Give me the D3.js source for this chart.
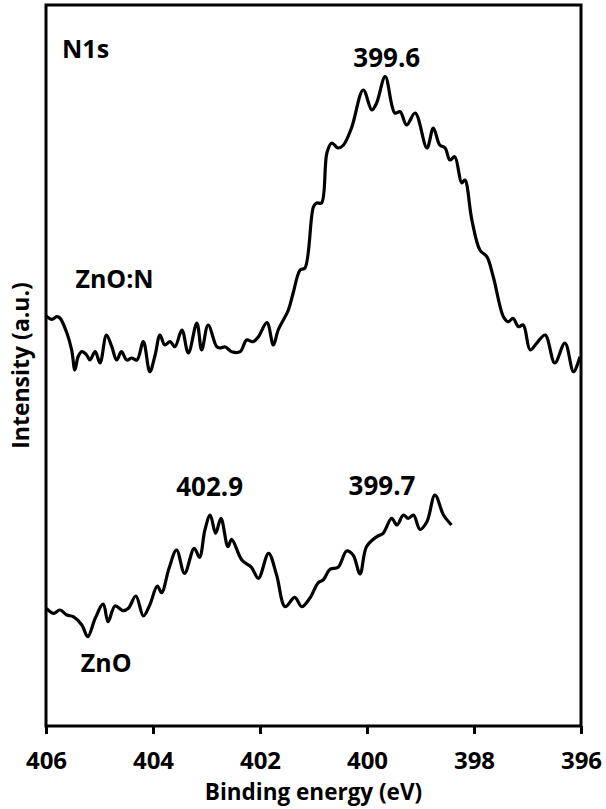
<!DOCTYPE html>
<html lang="en">
<head>
    <meta charset="UTF-8">
    <title>N1s XPS</title>
    <script src="https://d3js.org/d3.v7.min.js"></script>
    <style>
        body { margin: 0; background: #fff; }
        text { font-family: "Open Sans", sans-serif; font-weight: 700; fill: #000; }
    </style>
</head>
<body>
    <svg></svg>
    <script>
        // Binding energy (eV) and intensity (a.u.)
        const energyZnON = [406.00, 405.89, 405.80, 405.74, 405.61, 405.52, 405.46, 405.40, 405.33, 405.24,
            405.18, 405.08, 404.99, 404.87, 404.77, 404.68, 404.59, 404.49, 404.40, 404.30,
            404.18, 404.06, 403.96, 403.87, 403.78, 403.68, 403.59, 403.46, 403.34, 403.18,
            403.09, 402.97, 402.81, 402.75, 402.65, 402.53, 402.37, 402.25, 402.13, 402.03,
            401.87, 401.75, 401.66, 401.47, 401.38, 401.25, 401.16, 401.00, 400.94, 400.85,
            400.75, 400.66, 400.54, 400.44, 400.29, 400.07, 399.91, 399.82, 399.66, 399.48,
            399.38, 399.26, 399.10, 398.88, 398.76, 398.64, 398.54, 398.45, 398.36, 398.23,
            398.17, 398.04, 397.89, 397.76, 397.64, 397.45, 397.36, 397.27, 397.17, 397.08,
            396.95, 396.83, 396.67, 396.49, 396.30, 396.14, 396.02];
        const intensityZnON = [410, 406.7, 409.3, 408, 393, 376, 356, 369.3, 374.3, 371,
            366, 374.3, 363, 391, 379.3, 366, 374.3, 366, 368, 366,
            384.3, 354.3, 371, 391, 381, 384.3, 379.3, 396, 373, 403,
            376, 401, 379.3, 378, 379, 374.3, 374.3, 386, 384.3, 389.3,
            403.3, 381, 396, 416, 433, 456, 458, 519.3, 523, 523,
            573, 583, 578, 581, 598, 636, 616, 623, 649.3, 613,
            614.3, 601, 613, 578, 598, 581, 578, 566, 569.3, 543,
            546, 506, 476, 469.3, 449.3, 409.3, 404.3, 407.7, 399.3, 401,
            376, 382.7, 391, 363, 383, 354.3, 369.3];

        const energyZnO = [405.99, 405.86, 405.74, 405.61, 405.49, 405.33, 405.22, 405.08, 404.93, 404.84,
            404.71, 404.56, 404.46, 404.32, 404.18, 404.06, 403.92, 403.84, 403.70, 403.56,
            403.41, 403.23, 403.13, 403.03, 402.93, 402.83, 402.73, 402.60, 402.53, 402.34,
            402.16, 402.03, 401.84, 401.69, 401.53, 401.35, 401.22, 401.07, 400.91, 400.82,
            400.69, 400.54, 400.38, 400.26, 400.13, 400.01, 399.82, 399.70, 399.54, 399.44,
            399.32, 399.23, 399.13, 399.01, 398.88, 398.73, 398.57, 398.42];
        const intensityZnO = [117.7, 112.7, 116, 111, 109.3, 101, 89.3, 107.7, 122, 104.3,
            120, 115.3, 117.7, 130, 110, 121, 140, 133.3, 157.7, 176,
            152.7, 177.7, 168.7, 196, 211, 192.7, 207.7, 179.3, 186.7, 166,
            158.7, 147.7, 172.7, 151, 119.3, 128.7, 119.3, 127.7, 143.3, 146,
            156.7, 158.7, 175, 171, 152, 179.3, 189.3, 192.7, 207.7, 201,
            211, 207.7, 211, 196.7, 204.3, 231, 211, 201];

        const xTicks = [406, 404, 402, 400, 398, 396];

        // Labels: [text, energy, intensity, anchor]
        const labels = [
            ["N1s", 405.70, 668, "start"],
            ["399.6", 399.63, 659, "middle"],
            ["ZnO:N", 405.45, 438, "start"],
            ["402.9", 402.94, 230, "middle"],
            ["399.7", 399.72, 231, "middle"],
            ["ZnO", 405.35, 54, "start"]
        ];

        const margin = {top: 5, right: 25, bottom: 83, left: 46},
            width = 606 - margin.left - margin.right,
            height = 809 - margin.top - margin.bottom;

        const svg = d3.select("svg")
            .attr("width", 606)
            .attr("height", 809)
            .append("g")
            .attr("transform", `translate(${margin.left}, ${margin.top})`);

        // Reversed energy axis
        const x = d3.scaleLinear().domain([406, 396]).range([0, width]);
        const y = d3.scaleLinear().domain([0, height]).range([height, 0]);

        // Frame
        svg.append("rect")
            .attr("width", width)
            .attr("height", height)
            .attr("fill", "none")
            .attr("stroke", "#000")
            .attr("stroke-width", 3);

        // X axis
        const xAxis = svg.append("g")
            .attr("transform", `translate(0, ${height})`)
            .call(d3.axisBottom(x).tickValues(xTicks).tickSize(8).tickPadding(18).tickFormat(d3.format("d")));
        xAxis.select(".domain").remove();
        xAxis.selectAll(".tick line").attr("stroke-width", 3);
        xAxis.selectAll(".tick text")
            .style("font-family", "'Open Sans', sans-serif")
            .style("font-weight", 700)
            .style("font-size", "24px");

        // Axis titles
        svg.append("text")
            .attr("x", width / 2)
            .attr("y", height + 74)
            .attr("text-anchor", "middle")
            .style("font-size", "22.5px")
            .text("Binding energy (eV)");

        svg.append("text")
            .attr("transform", `translate(-17, ${height / 2}) rotate(-90)`)
            .attr("text-anchor", "middle")
            .style("font-size", "23px")
            .text("Intensity (a.u.)");

        // Spectra
        const line = d3.line()
            .x(d => x(d[0]))
            .y(d => y(d[1]))
            .curve(d3.curveCatmullRom.alpha(0.5));

        const series = [
            d3.zip(energyZnON, intensityZnON),
            d3.zip(energyZnO, intensityZnO)
        ];

        svg.selectAll(".spectrum")
            .data(series)
            .enter()
            .append("path")
            .attr("class", "spectrum")
            .attr("fill", "none")
            .attr("stroke", "#000")
            .attr("stroke-width", 3.2)
            .attr("stroke-linejoin", "round")
            .attr("d", d => line(d));

        // Annotations
        svg.selectAll(".label")
            .data(labels)
            .enter()
            .append("text")
            .attr("class", "label")
            .attr("x", d => x(d[1]))
            .attr("y", d => y(d[2]))
            .attr("text-anchor", d => d[3])
            .style("font-size", d => d[0] === "N1s" || d[0].startsWith("ZnO") ? "25px" : "26px")
            .text(d => d[0]);
    </script>
</body>
</html>
